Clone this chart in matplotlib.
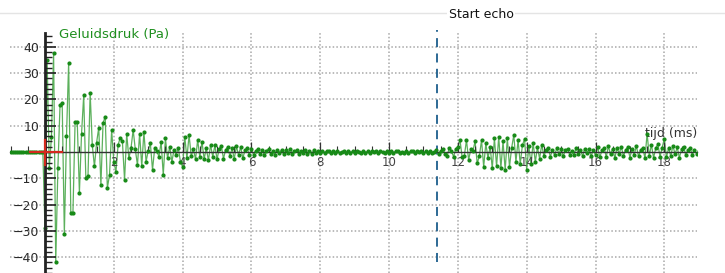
import numpy as np
import matplotlib
matplotlib.use("Agg")
import matplotlib.pyplot as plt
from matplotlib.ticker import MultipleLocator, FixedLocator

# sampling interval (ms)
dt = 0.0625
t_start = -1.0

pre_trigger = [0, 0, 0, 0, 0, 0, 0, 0, 0, 0, 0, 0, 0, 0, 0, 0]
p_00_02 = [-29, 35, -6, 5.7, 37.5, -42, -6, 18, 18.5, -31, 6, 34, -23, -23, 11.5, 11.5,
           -15.5, 7, 21.5, -10, -9, 22.5, 2.5, -5.5, 3.6, 9.3, -12.5, 11, 13.5, -13.7, -8.7, 8.4]
p_02_04 = [-3.7, -7.5, 2.7, 5.5, 4, -10.6, 7, -2.4, 1.5, 8.4, 1, -5, 7, -5.5, 7.7, -3.7,
           0.5, 3.3, -6.8, 1.4, 0.3, -1.8, 3.9, -8.7, 5.2, -2.4, 2, -3.7, 0.8, -1, 1.4, -3.7]
p_04_06 = [-5.6, 5.8, -2.4, 6.5, -1.5, 1, -2.7, 4.6, -2, 3.9, -2.7, 1.5, -3.2, 2.7, -1.8, 2.5,
           -2.8, 1.2, 2.3, -2.5, 0.8, 2, -1.7, 1.5, -2.6, 2.1, -1, 1.8, -2.3, 0.6, 1.5, -1.2]
p_06_08 = [1.3, -1.1, 0.4, 1.2, -0.9, 0.8, -1.2, 0.5, 1.1, -0.7, 0.3, -1, 0.9, -0.4, 0.8, -0.9,
           0.6, -0.5, 1, -0.6, 0.2, 0.7, -0.8, 0.5, -0.3, 0.8, -0.6, 0.4, -0.7, 0.6, -0.2, 0.5]
p_08_10 = [-0.4, 0.5, -0.3, 0.2, 0.4, -0.5, 0.3, -0.2, 0.5, -0.4, 0.1, 0.3, -0.3, 0.4, -0.2, 0.2,
           -0.4, 0.3, 0.1, -0.3, 0.4, -0.2, 0.2, -0.4, 0.3, -0.1, 0.3, -0.3, 0.2, 0.1, -0.3, 0.2]
p_10_12 = [-0.2, 0.3, -0.3, 0.2, 0.4, -0.2, 0.1, -0.3, 0.3, -0.2, 0.2, 0.3, -0.4, 0.2, -0.1, 0.3,
           -0.3, 0.2, -0.2, 0.4, -0.3, 0.1, 0.6, -0.8, 0.4, 1.2, -0.6, -1.5, 1.6, 0.3, -1.8, 1.2]
p_12_14 = [2, 4.5, -2, -1.5, 4.5, -3, 1, 0.5, 4, -4.3, -1.5, 4.5, -5.6, 3.3, -2.3, 2,
           -6.2, 5.2, -5.5, 5.8, -6, 4, -6.8, 5.2, -5.6, 1.5, 6.5, -3.7, 4.5, -4.5, 2.5, 5]
p_14_16 = [-6.8, 2.2, -4.5, 3.5, -3.8, 1.8, -2.5, 2.8, -1.5, 0.8, 1.5, -1.8, 0.9, -1.2, 1.4, -0.6,
           1.1, -1.5, 0.7, 1.2, -1, 0.5, -1.3, 1.6, -0.8, 0.9, -1.6, 1.3, -0.5, 1, -1.4, 0.8]
p_16_18 = [-1.2, 1.8, -2, 0.6, 1.5, -1.8, 2.2, -0.9, 1.3, -2.3, 1.6, -0.7, 2, -1.5, 0.8, 1.9,
           -2.1, 1.2, -1, 2.3, -1.7, 0.9, 1.6, -2.4, 7, -1.5, 2.8, -2.2, 1.4, 3, -1.8, 1.7]
p_18_19 = [5, -2, 1.5, -1.6, 2.4, -0.8, 1.8, -2.2, 1, 1.9, -1.3, 0.7, 1.6, -1.1, 0.8, -0.6, 0.3]

echo_start = 11.4   # ms
y_ticks = [-40, -30, -20, -10, 10, 20, 30, 40]
x_ticks = [2, 4, 6, 8, 10, 12, 14, 16, 18]

pressure = np.concatenate([pre_trigger, p_00_02, p_02_04, p_04_06, p_06_08, p_08_10,
                           p_10_12, p_12_14, p_14_16, p_16_18, p_18_19])
tijd = t_start + np.arange(len(pressure)) * dt

W, H = 725, 273
fig = plt.figure(figsize=(W / 100, H / 100), dpi=100)
ax = fig.add_axes([10 / W, 0, 687 / W, 240 / H])
ax.set_xlim(-1.017, 18.95)
ax.set_ylim(-46.0, 45.25)

# grid (dotted)
for yv in y_ticks:
    ax.axhline(yv, color="#a8a8a8", lw=1.1, ls=(0, (1, 1.4)), zorder=0)
for xv in x_ticks:
    ax.axvline(xv, color="#a8a8a8", lw=1.1, ls=(0, (1, 1.4)), zorder=0)

# the signal
ax.plot(tijd, pressure, color="#4aa84a", lw=0.9, alpha=0.9, zorder=3)
ax.plot(tijd, pressure, ls="none", marker="o", ms=2.0, color="#178a17", zorder=4)

# red cursor at the origin
ax.plot([-0.44, 0.49], [0, 0], color="#d42a1e", lw=1.6, zorder=7)
ax.plot([0, 0], [4.6, -5.0], color="#d42a1e", lw=1.6, zorder=7)

# start of the echo
ax.axvline(echo_start, ymin=0.046, ymax=1.0125, color="#1d5e8c", lw=1.3,
           ls=(0, (5, 3.5)), clip_on=False, zorder=2)

for s in ["top", "right"]:
    ax.spines[s].set_visible(False)
ax.spines["left"].set_position(("data", 0))
ax.spines["bottom"].set_position(("data", 0))
ax.spines["left"].set_linewidth(2.0)
ax.spines["left"].set_color("#222222")
ax.spines["bottom"].set_linewidth(1.0)
ax.spines["bottom"].set_color("#333333")
ax.spines["left"].set_zorder(6)
ax.spines["bottom"].set_zorder(3.5)
ax.xaxis.set_zorder(3.5)
ax.yaxis.set_zorder(6)

ax.yaxis.set_major_locator(FixedLocator(y_ticks))
ax.yaxis.set_minor_locator(MultipleLocator(2))
ax.tick_params(axis="y", which="major", direction="in", length=8, width=1.2,
               color="#222222", labelsize=9, labelcolor="#2a2a2a", pad=4)
ax.tick_params(axis="y", which="minor", direction="in", length=5, width=1.0, color="#222222")

ax.xaxis.set_major_locator(FixedLocator(x_ticks))
ax.xaxis.set_minor_locator(MultipleLocator(0.5))
ax.tick_params(axis="x", which="major", direction="in", length=7, width=0.9,
               color="#333333", labelsize=8.5, labelcolor="#444444", pad=3)
ax.tick_params(axis="x", which="minor", direction="in", length=4, width=0.8, color="#333333")

ax.text(0.4, 44.5, "Geluidsdruk (Pa)", color="#1f8f1f", fontsize=9.5,
        va="center", ha="left", zorder=7)
ax.text(18.95, 7.0, "tijd (ms)", color="#333333", fontsize=9, va="center", ha="right")

# light line at the top and the caption
fig.add_artist(plt.Line2D([0, 1], [1 - 13 / H, 1 - 13 / H], color="#e4e4e4", lw=1.0))
fig.text(481 / W, 1 - 14 / H, "Start echo", fontsize=9, ha="center", va="center",
         color="#111111", bbox=dict(facecolor="white", edgecolor="none", pad=1))

fig.savefig("out.png", dpi=100)
